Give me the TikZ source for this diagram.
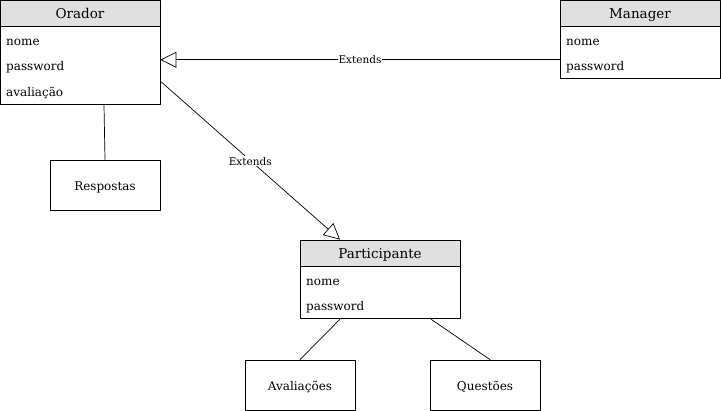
\documentclass[tikz,border=0pt]{standalone}
\usepackage{fontspec}
\setmainfont{DejaVu Serif}
\usetikzlibrary{arrows.meta}
\usetikzlibrary{positioning}
\definecolor{headgray}{rgb}{0.878,0.878,0.878}
\tikzset{
  classhead/.style={draw=black, fill=headgray, line width=0.8pt, minimum width=160pt, minimum height=26pt, inner sep=0pt, text height=11.5pt, text depth=0pt, font=\fontsize{13.5}{15}\selectfont},
  classbody/.style={draw=black, fill=white, line width=0.8pt, minimum width=160pt, inner sep=0pt},
  attr/.style={anchor=west, inner sep=0pt, font=\fontsize{12}{14}\selectfont},
  plainbox/.style={draw=black, line width=0.8pt, minimum width=110pt, minimum height=50pt, inner sep=0pt, text height=12pt, text depth=0pt, font=\fontsize{12}{14}\selectfont},
  extends/.style={line width=0.7pt, -{Triangle[open, length=16pt, width=16pt, fill=white]}},
  assoc/.style={line width=0.7pt},
  lbl/.style={fill=white, inner sep=1pt, font=\fontsize{10.5}{12}\selectfont}
}
\begin{document}
\begin{tikzpicture}[line cap=round,line join=round,x=1pt,y=-1pt]
\useasboundingbox (0,0) rectangle (721,411);
% classes
\node[classhead] (orador) at (80,13) {Orador};
\node[classbody, minimum height=78pt, below=0pt of orador] (oradorbody) {};
\node[attr] (oradornome) at (6,42) {nome};
\node[attr] (oradorpass) at (6,67) {password};
\node[attr] (oradoraval) at (6,93) {avaliação};
\node[classhead] (manager) at (640,13) {Manager};
\node[classbody, minimum height=52pt, below=0pt of manager] (managerbody) {};
\node[attr] (managernome) at (566,42) {nome};
\node[attr] (managerpass) at (566,67) {password};
\node[classhead] (participante) at (380,253) {Participante};
\node[classbody, minimum height=52pt, below=0pt of participante] (participantebody) {};
\node[attr] (partnome) at (306,282) {nome};
\node[attr] (partpass) at (306,307) {password};
% other boxes
\node[plainbox] (respostas) at (105,185) {Respostas};
\node[plainbox] (avaliacoes) at (300,385) {Avaliações};
\node[plainbox] (questoes) at (485,385) {Questões};
% connectors
\coordinate (extstart) at ([yshift=-7pt]managerbody.west);
\draw[extends] (extstart) -- node[lbl] {Extends} (oradorbody.east |- extstart);
\draw[extends] ([yshift=24pt]oradorbody.south east) -- node[lbl, yshift=-1pt] {Extends} ([xshift=-40pt]participante.north);
\draw[assoc] ([xshift=24pt]oradorbody.south) -- (respostas.north);
\draw[assoc] ([xshift=-40pt]participantebody.south) -- (avaliacoes.north);
\draw[assoc] ([xshift=51pt]participantebody.south) -- ([xshift=5pt]questoes.north);
\end{tikzpicture}
\end{document}
